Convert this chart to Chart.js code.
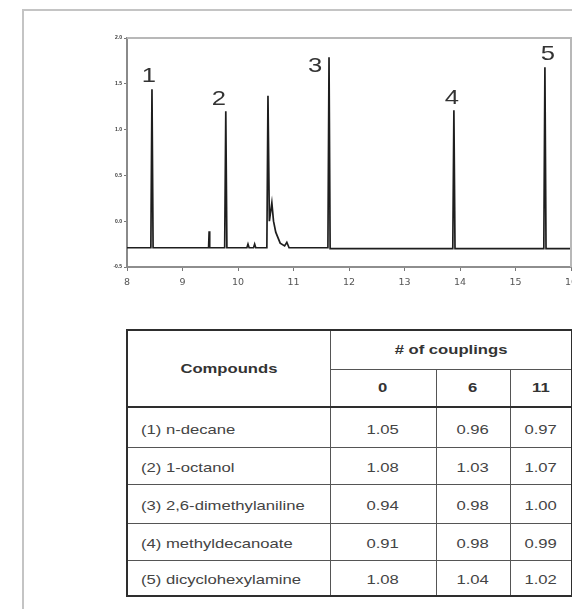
<!DOCTYPE html>
<html>
<head>
<meta charset="utf-8">
<script src="https://cdn.jsdelivr.net/npm/chart.js@4/dist/chart.umd.min.js"></script>
<style>
  html, body { margin: 0; padding: 0; background: #fff; overflow: hidden; }
  body { width: 572px; height: 609px; position: relative; font-family: 'Liberation Sans', Arial, sans-serif; }
  #frame { position: absolute; left: 22px; top: 9px; width: 600px; height: 640px;
           border-top: 2px solid #c4c4c4; border-left: 2px solid #c4c4c4; }
  #chartBox { position: absolute; left: 0; top: 0; width: 600px; height: 300px; }
  #tbl { position: absolute; left: 126px; top: 329px; border-collapse: collapse;
         table-layout: fixed; width: 445px; color: #444; font-size: 13px;
         border: 2px solid #2e2e2e; }
  #tbl td, #tbl th { border: 1px solid #555; padding: 0; text-align: center; white-space: nowrap; }
  #tbl th { font-weight: bold; color: #333; }
  #tbl td.name { text-align: left; padding-left: 13px; }
  #tbl tr.hdr2 th { border-bottom: 2px solid #2e2e2e; }
  #tbl td > span, #tbl th > span { display: inline-block; transform: scaleX(1.28); }
  #tbl td.name > span { transform-origin: left center; }
  #tbl td.num > span { position: relative; top: 2px; }
  #tbl td.name > span { position: relative; top: 2px; }
</style>
</head>
<body>
<div id="frame"></div>
<div id="chartBox"><canvas id="gcChart"></canvas></div>
<table id="tbl"></table>
<script>
// Chromatogram trace (retention time, min / detector signal)
const times = [8.0, 8.43, 8.45, 8.47, 9.47, 9.48, 9.49, 9.76, 9.78, 9.80, 10.16, 10.18, 10.20, 10.28, 10.30, 10.32,
               10.52, 10.54, 10.565, 10.61, 10.64, 10.68, 10.76, 10.84, 10.88, 10.92, 11.62, 11.64, 11.66,
               13.87, 13.89, 13.91, 15.51, 15.53, 15.55, 16.0];
const signal = [-0.29, -0.29, 1.44, -0.29, -0.29, -0.11, -0.29, -0.29, 1.20, -0.29, -0.29, -0.25, -0.29, -0.29, -0.25, -0.29,
                -0.29, 1.37, 0.0, 0.20, 0.0, -0.12, -0.24, -0.27, -0.23, -0.29, -0.29, 1.79, -0.30,
                -0.30, 1.21, -0.30, -0.30, 1.68, -0.30, -0.30];
const xTicks = [8, 9, 10, 11, 12, 13, 14, 15, 16];
const yTicks = [-0.5, 0.0, 0.5, 1.0, 1.5, 2.0];

// Numbered peaks
const peakNames = ['1', '2', '3', '4', '5'];
const peakIndex = [2, 8, 27, 30, 33];

// Table
const compounds = ['(1) n-decane', '(2) 1-octanol', '(3) 2,6-dimethylaniline', '(4) methyldecanoate', '(5) dicyclohexylamine'];
const couplings = ['0', '6', '11'];
const ratio0 = ['1.05', '1.08', '0.94', '0.91', '1.08'];
const ratio6 = ['0.96', '1.03', '0.98', '0.98', '1.04'];
const ratio11 = ['0.97', '1.07', '1.00', '0.99', '1.02'];

// label offsets in px relative to the apex
const labelOffsets = [[-3, -14], [-7, -13], [-14, 8], [-2, -13], [3, -14]];

const peakLabels = {
    id: 'peakLabels',
    afterDatasetsDraw(chart) {
        const { ctx, scales: { x, y }, chartArea } = chart;
        ctx.save();
        // plot frame (top and right)
        ctx.strokeStyle = '#b8b8b8';
        ctx.lineWidth = 2;
        ctx.beginPath();
        ctx.moveTo(chartArea.left, chartArea.top);
        ctx.lineTo(chartArea.right, chartArea.top);
        ctx.lineTo(chartArea.right, chartArea.bottom);
        ctx.stroke();
        ctx.font = '21px "Liberation Sans", Arial, sans-serif';
        ctx.fillStyle = '#333';
        ctx.textAlign = 'center';
        ctx.textBaseline = 'middle';
        peakNames.forEach((n, i) => {
            const k = peakIndex[i];
            const px = x.getPixelForValue(times[k]) + labelOffsets[i][0];
            const py = y.getPixelForValue(signal[k]) + labelOffsets[i][1];
            ctx.save();
            ctx.translate(px, py);
            ctx.scale(1.22, 1);
            ctx.fillText(n, 0, 1);
            ctx.restore();
        });
        ctx.restore();
    }
};

new Chart(document.getElementById('gcChart').getContext('2d'), {
    type: 'line',
    data: {
        datasets: [{
            data: times.map((t, i) => ({ x: t, y: signal[i] })),
            borderColor: '#1e1e1e',
            borderWidth: 1.7,
            pointRadius: 0,
            tension: 0,
            fill: false
        }]
    },
    options: {
        responsive: true,
        maintainAspectRatio: false,
        animation: false,
        layout: { padding: { left: 0, top: 38, right: 29, bottom: 0 } },
        plugins: { legend: { display: false }, tooltip: { enabled: false } },
        scales: {
            x: {
                type: 'linear',
                min: 8, max: 16,
                afterBuildTicks: (s) => { s.ticks = xTicks.map(v => ({ value: v })); },
                afterFit: (s) => { s.height = 33; },
                border: { color: '#8e8e8e', width: 2 },
                grid: { drawOnChartArea: false, drawTicks: true, tickLength: 4, color: '#777' },
                ticks: { color: '#555', font: { size: 9.5, family: 'DejaVu Sans' }, padding: 6, maxRotation: 0 }
            },
            y: {
                min: -0.5, max: 2.0,
                afterBuildTicks: (s) => { s.ticks = yTicks.map(v => ({ value: v })); },
                afterFit: (s) => { s.width = 127; },
                border: { color: '#8a8a8a', width: 2 },
                grid: { drawOnChartArea: false, drawTicks: true, tickLength: 3, color: '#777' },
                ticks: { color: '#333', font: { size: 5, family: 'Liberation Sans', weight: 'bold' }, padding: 2,
                         callback: (v) => v.toFixed(1) }
            }
        }
    },
    plugins: [peakLabels]
});

// build the table
const tbl = document.getElementById('tbl');
const colW = [203, 106, 74, 62];
const sp = (t) => '<span>' + t + '</span>';
let html = '<colgroup>' + colW.map(w => '<col style="width:' + w + 'px">').join('') + '</colgroup>';
html += '<tr style="height:39px"><th rowspan="2" style="border-bottom:2px solid #2e2e2e">' + sp('Compounds') +
        '</th><th colspan="3">' + sp('# of couplings') + '</th></tr>';
html += '<tr class="hdr2" style="height:38px">' + couplings.map(c => '<th>' + sp(c) + '</th>').join('') + '</tr>';
const rowH = [40, 37, 39, 37, 36];
compounds.forEach((c, i) => {
    html += '<tr style="height:' + rowH[i] + 'px"><td class="name">' + sp(c) + '</td><td class="num">' + sp(ratio0[i]) +
            '</td><td class="num">' + sp(ratio6[i]) + '</td><td class="num">' + sp(ratio11[i]) + '</td></tr>';
});
tbl.innerHTML = html;
</script>
</body>
</html>
